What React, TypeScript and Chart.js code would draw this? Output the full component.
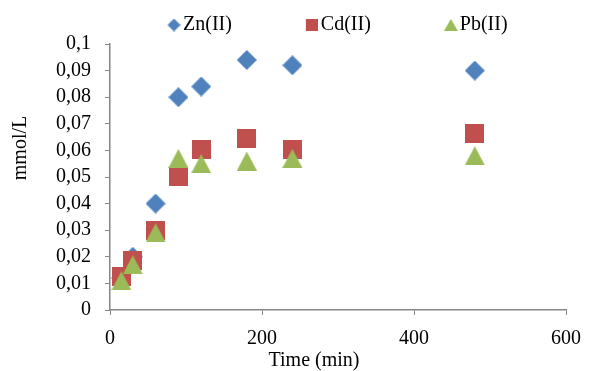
import React, { useEffect, useRef } from "react";
import { Chart, registerables } from "chart.js";

Chart.register(...registerables);

const timeZn = [15, 30, 60, 90, 120, 180, 240, 480];
const valuesZn = [0.012, 0.02, 0.04, 0.08, 0.084, 0.094, 0.092, 0.09];
const timeCd = [15, 30, 60, 90, 120, 180, 240, 480];
const valuesCd = [0.0125, 0.0185, 0.03, 0.0503, 0.0604, 0.0644, 0.0604, 0.0663];
const timePb = [15, 30, 60, 90, 120, 180, 240, 480];
const valuesPb = [0.011, 0.017, 0.029, 0.057, 0.055, 0.056, 0.057, 0.058];
const seriesNames = ["Zn(II)", "Cd(II)", "Pb(II)"];
const seriesColors = ["#4F81BD", "#C0504D", "#9BBB59"];
const yTickLabels = ["0", "0,01", "0,02", "0,03", "0,04", "0,05", "0,06", "0,07", "0,08", "0,09", "0,1"];
const xTickLabels = ["0", "200", "400", "600"];

const FONT = "'Liberation Serif', 'Times New Roman', serif";
const FS = 20;
const LEGEND_PAD = 59;

function makeMarker(kind: string, color: string, w: number, h: number, shift = 0): HTMLCanvasElement {
  const c = document.createElement("canvas");
  c.width = w + 2 * shift;
  c.height = h;
  const ctx = c.getContext("2d")!;
  ctx.fillStyle = color;
  ctx.translate(2 * shift, 0);
  ctx.beginPath();
  if (kind === "diamond") {
    ctx.moveTo(w / 2, 0);
    ctx.lineTo(w, h / 2);
    ctx.lineTo(w / 2, h);
    ctx.lineTo(0, h / 2);
  } else if (kind === "square") {
    ctx.rect(0, 0, w, h);
  } else {
    ctx.moveTo(w / 2, 0);
    ctx.lineTo(w, h);
    ctx.lineTo(0, h);
  }
  ctx.closePath();
  ctx.fill();
  return c;
}

const titleShift = {
  id: "titleShift",
  beforeDraw(ch: any) {
    const shifts: Record<string, [number, number]> = { x: [-24, 2], y: [0, -29] };
    Object.keys(shifts).forEach((id) => {
      const sc = ch.scales[id];
      if (sc && !sc.__shifted) {
        const orig = sc.drawTitle.bind(sc);
        sc.drawTitle = function () {
          const c = this.ctx;
          c.save();
          c.translate(shifts[id][0], shifts[id][1]);
          orig();
          c.restore();
        };
        sc.__shifted = true;
      }
    });
  },
};

export default function App() {
  const ref = useRef<HTMLCanvasElement | null>(null);
  useEffect(() => {
    document.body.style.margin = "0";
    const kinds = ["diamond", "square", "triangle"];
    const bigW = [20, 19, 20];
    const bigH = [20, 19, 19];
    const smallW = [13, 12, 14];
    const smallH = [13, 12, 12];
    const big = kinds.map((k, i) => makeMarker(k, seriesColors[i], bigW[i], bigH[i]));
    const small = kinds.map((k, i) => makeMarker(k, seriesColors[i], smallW[i], smallH[i], 11));
    const toPts = (xs: number[], ys: number[]) => xs.map((x, i) => ({ x, y: ys[i] }));
    const chart = new Chart(ref.current!, {
      type: "scatter",
      data: {
        datasets: [
          { label: seriesNames[0], order: 3, data: toPts(timeZn, valuesZn), pointStyle: big[0] as any, backgroundColor: seriesColors[0], borderColor: seriesColors[0] },
          { label: seriesNames[1], order: 2, data: toPts(timeCd, valuesCd), pointStyle: big[1] as any, backgroundColor: seriesColors[1], borderColor: seriesColors[1] },
          { label: seriesNames[2], order: 1, data: toPts(timePb, valuesPb), pointStyle: big[2] as any, backgroundColor: seriesColors[2], borderColor: seriesColors[2] },
        ],
      },
      options: {
        animation: false,
        responsive: false,
        maintainAspectRatio: false,
        layout: { padding: { top: 0, right: 34, left: 0, bottom: 0 } },
        plugins: {
          tooltip: { enabled: false },
          legend: {
            position: "top",
            labels: {
              usePointStyle: true,
              padding: LEGEND_PAD,
              color: "#000",
              font: { family: FONT, size: FS },
              generateLabels: (ch: any) =>
                ch.data.datasets.map((d: any, i: number) => ({
                  text: d.label,
                  pointStyle: small[i],
                  fillStyle: seriesColors[i],
                  strokeStyle: seriesColors[i],
                  lineWidth: 0,
                  datasetIndex: i,
                  fontColor: "#000",
                })),
            },
          },
        },
        scales: {
          x: {
            type: "linear",
            min: 0,
            max: 600,
            afterBuildTicks: (axis: any) => {
              axis.ticks = xTickLabels.map((t) => ({ value: Number(t) }));
            },
            afterFit: (axis: any) => {
              axis.height = 61;
            },
            ticks: {
              color: "#000",
              font: { family: FONT, size: FS },
              padding: 12,
              maxRotation: 0,
              autoSkip: false,
              callback: (v: any) => xTickLabels[xTickLabels.indexOf(String(v))] ?? String(v),
            },
            grid: { drawOnChartArea: false, drawTicks: true, tickLength: 5, color: "#868686", lineWidth: 1 },
            border: { color: "#868686", width: 1.5 },
            title: { display: true, text: "Time (min)", color: "#000", font: { family: FONT, size: FS }, padding: { top: 0, bottom: 0 } },
          },
          y: {
            type: "linear",
            min: 0,
            max: 0.1,
            afterBuildTicks: (axis: any) => {
              axis.ticks = yTickLabels.map((_, i) => ({ value: i / 100 }));
            },
            afterFit: (axis: any) => {
              axis.width = 110;
            },
            ticks: {
              color: "#000",
              font: { family: FONT, size: FS },
              padding: 14,
              autoSkip: false,
              callback: (_v: any, i: number) => yTickLabels[i],
            },
            grid: { drawOnChartArea: false, drawTicks: true, tickLength: 5, color: "#868686", lineWidth: 1 },
            border: { color: "#868686", width: 1.5 },
            title: { display: true, text: "mmol/L", color: "#000", font: { family: FONT, size: FS }, padding: { top: 9, bottom: 0 } },
          },
        },
      },
      plugins: [titleShift],
    } as any);
    // Legend: fixed band height above the plot, items placed like the reference
    const lg: any = (chart as any).legend;
    if (lg) {
      const origFit = lg.fit.bind(lg);
      lg.fit = function () {
        origFit();
        this.height = 44;
      };
      const origDraw = lg.draw.bind(lg);
      lg.draw = function () {
        const saved = { left: this.left, right: this.right, top: this.top, bottom: this.bottom };
        const startX = (this.left + LEGEND_PAD + this.right - this.lineWidths[0]) / 2;
        const dx = 153 - startX;
        this.left += dx;
        this.right += dx;
        this.top = 25 - LEGEND_PAD - FS / 2;
        this.bottom = 44;
        origDraw();
        Object.assign(this, saved);
      };
      chart.update();
    }
    return () => chart.destroy();
  }, []);
  return (
    <div style={{ position: "absolute", left: 0, top: 0, width: 600, height: 371 }}>
      <canvas ref={ref} width={600} height={371} style={{ width: 600, height: 371 }} />
    </div>
  );
}
